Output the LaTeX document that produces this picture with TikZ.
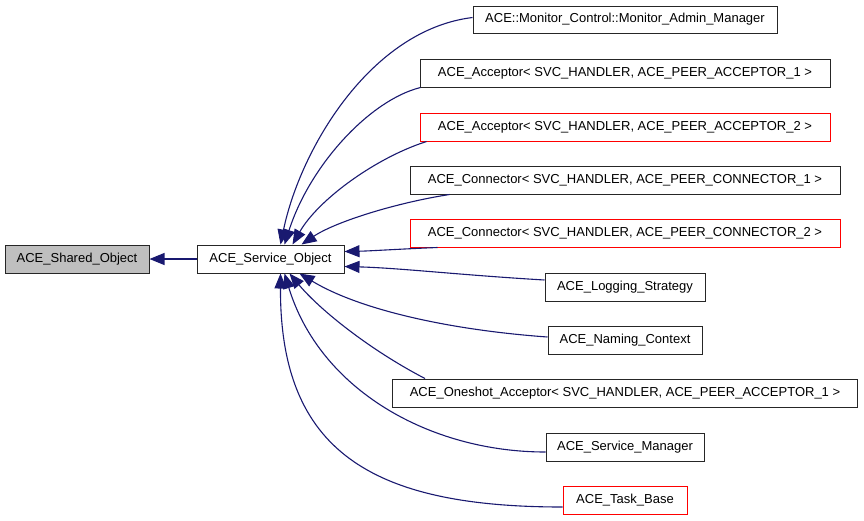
\documentclass[tikz,border=0pt]{standalone}
\usepackage{fontspec}
\setmainfont{Liberation Sans}
\usetikzlibrary{arrows.meta,calc}
\definecolor{edgeblue}{RGB}{25,25,112}
\definecolor{boxgray}{RGB}{191,191,191}
\begin{document}
\begin{tikzpicture}[x=1pt,y=-1pt,
  cls/.style={draw=black!85,line width=1pt,rectangle,minimum height=28pt,inner sep=0pt,
    font=\fontsize{13}{15}\selectfont,anchor=center},
  redcls/.style={cls,draw=red},
  inh/.style={draw=edgeblue,line width=1.1pt,-{Triangle[length=15pt,width=12pt]}}]
\useasboundingbox (0,0) rectangle (864,520);
\node[cls,fill=boxgray,minimum width=144pt] (shared) at (77,259) {ACE\_Shared\_Object};
\node[cls,minimum width=147pt] (service) at (270.5,259) {ACE\_Service\_Object};
\node[cls,minimum width=304pt,minimum height=27pt] (monitor) at (625,19.5) {ACE::Monitor\_Control::Monitor\_Admin\_Manager};
\node[cls,minimum width=410pt] (acc1) at (625,73) {ACE\_Acceptor< SVC\_HANDLER, ACE\_PEER\_ACCEPTOR\_1 >};
\node[redcls,minimum width=410pt] (acc2) at (625,127) {ACE\_Acceptor< SVC\_HANDLER, ACE\_PEER\_ACCEPTOR\_2 >};
\node[cls,minimum width=430pt] (conn1) at (625,180) {ACE\_Connector< SVC\_HANDLER, ACE\_PEER\_CONNECTOR\_1 >};
\node[redcls,minimum width=430pt] (conn2) at (625,233) {ACE\_Connector< SVC\_HANDLER, ACE\_PEER\_CONNECTOR\_2 >};
\node[cls,minimum width=160pt] (logging) at (625,287) {ACE\_Logging\_Strategy};
\node[cls,minimum width=154pt] (naming) at (625,340) {ACE\_Naming\_Context};
\node[cls,minimum width=465pt] (oneshot) at (625,393) {ACE\_Oneshot\_Acceptor< SVC\_HANDLER, ACE\_PEER\_ACCEPTOR\_1 >};
\node[cls,minimum width=158pt] (svcmgr) at (625,447) {ACE\_Service\_Manager};
\node[redcls,minimum width=124pt] (task) at (625,500) {ACE\_Task\_Base};

\draw[inh] (service.west) -- (shared.east);

\draw[inh] ($(monitor.west)+(0,-2)$) .. controls (370,30) and (300,150) .. ($(service.north west)+(84,0)$);
\draw[inh] ($(acc1.south west)+(1,0)$) .. controls (370,100) and (310,165) .. ($(service.north west)+(88,0)$);
\draw[inh] ($(acc2.south west)+(7,0)$) .. controls (375,158) and (318,200) .. ($(service.north west)+(96,0)$);
\draw[inh] ($(conn1.south west)+(40,0)$) .. controls (395,203) and (335,222) .. ($(service.north west)+(105,0)$);
\draw[inh] ($(conn2.south west)+(28,0)$) .. controls (400,249) and (370,251) .. ($(service.north east)+(0,7)$);
\draw[inh] ($(logging.west)+(0,-7)$) .. controls (460,275) and (400,268) .. ($(service.south east)+(0,-7)$);
\draw[inh] ($(naming.west)+(0,-3)$) .. controls (450,330) and (360,310) .. ($(service.south west)+(103,0)$);
\draw[inh] ($(oneshot.north west)+(33,0)$) .. controls (370,350) and (320,310) .. ($(service.south west)+(93,0)$);
\draw[inh] ($(svcmgr.west)+(0,5)$) .. controls (430,452) and (320,390) .. ($(service.south west)+(88,0)$);
\draw[inh] ($(task.west)+(0,7)$) .. controls (370,507) and (280,450) .. ($(service.south west)+(84,0)$);
\end{tikzpicture}
\end{document}
